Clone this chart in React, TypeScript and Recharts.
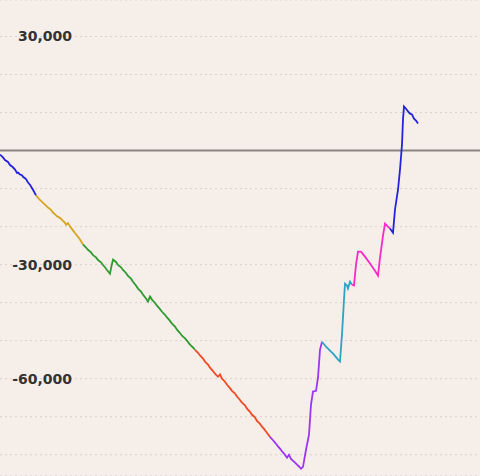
import { LineChart, Line, XAxis, YAxis, CartesianGrid, ReferenceLine } from 'recharts';

// trade number, cumulative P&L
const blue1 = [
  [0, -1050], [3, -1800], [5, -2500], [8, -3000], [10, -3800], [13, -4400], [15, -5000], [17, -5900],
  [18, -5800], [20, -6300], [22, -6500], [23, -6900], [25, -7300], [26, -7500], [28, -8400],
  [30, -9000], [33, -10300], [36, -11800],
];
const gold = [
  [36, -11800], [39, -12700], [42, -13500], [45, -14200], [48, -15000], [51, -15600], [53, -16300],
  [55, -16800], [57, -17300], [60, -17700], [63, -18500], [65, -19000], [66, -19500], [68, -19100],
  [70, -20000], [73, -21000], [75, -21700], [78, -22700], [80, -23400], [83, -24700],
];
const green = [
  [83, -24700], [86, -25500], [88, -26100], [91, -26800], [93, -27500], [96, -28100], [98, -28800],
  [101, -29400], [103, -30100], [105, -30700], [107, -31400], [110, -32400], [111, -31000],
  [113, -28700], [116, -29300], [118, -30100], [121, -30700], [123, -31400], [126, -32200],
  [128, -33000], [131, -33700], [133, -34500], [136, -35500], [138, -36300], [141, -37100],
  [143, -37900], [146, -38900], [148, -39700], [150, -38400], [152, -39200], [155, -40100],
  [157, -40800], [160, -41700], [162, -42400], [165, -43200], [167, -43900], [170, -44800],
  [172, -45500], [175, -46300], [177, -47100], [180, -48000], [182, -48700], [185, -49400],
  [187, -50000], [189, -50700], [191, -51300], [193, -51800], [195, -52400],
];
const orange = [
  [195, -52400], [198, -53200], [200, -53900], [203, -54700], [205, -55500], [208, -56300],
  [210, -57100], [213, -58000], [215, -58700], [218, -59500], [220, -58900], [222, -60000],
  [225, -60800], [227, -61600], [230, -62500], [232, -63200], [235, -63900], [237, -64700],
  [240, -65600], [242, -66300], [245, -67000], [247, -67900], [250, -68700], [252, -69500],
  [255, -70200], [257, -71100], [260, -71900], [262, -72600], [264, -73200], [266, -73900],
  [268, -74600], [270, -75300],
];
const purple = [
  [270, -75300], [273, -76200], [275, -76800], [278, -77800], [280, -78400], [282, -79100],
  [284, -79700], [287, -80800], [289, -80000], [291, -81100], [294, -81800], [297, -82600],
  [299, -83100], [301, -83700], [303, -83200], [306, -78700], [309, -74700], [311, -66800],
  [313, -63400], [316, -63200], [318, -59700], [320, -52400], [322, -50300],
];
const teal = [
  [322, -50300], [326, -51600], [330, -52600], [334, -53700], [338, -55000], [340, -55500],
  [342, -48400], [344, -39200], [345, -35000], [347, -35500], [348, -36300], [350, -34500],
  [352, -35300],
];
const magenta = [
  [352, -35300], [354, -35500], [356, -30000], [358, -26600], [361, -26600], [365, -27900],
  [370, -29700], [375, -31600], [378, -32900], [380, -28200], [383, -22400], [385, -19200],
  [388, -20000], [390, -20500],
];
const blue2 = [
  [390, -20500], [393, -21600], [395, -15500], [398, -10300], [400, -5000], [402, 1600],
  [403, 8200], [404, 11600], [406, 11000], [408, 10300], [410, 9700], [412, 9500],
  [414, 8400], [416, 7900], [418, 7100],
];

const GRID_TICKS = [30000, 20000, 10000, 0, -10000, -20000, -30000, -40000, -50000, -60000, -70000, -80000];
const LABEL_TICKS = [30000, -30000, -60000];

const SEGMENTS = [
  { name: 'blue1', points: blue1, color: '#2323dd' },
  { name: 'gold', points: gold, color: '#d6a322' },
  { name: 'green', points: green, color: '#2f9a2f' },
  { name: 'orange', points: orange, color: '#f04a24' },
  { name: 'purple', points: purple, color: '#9d35f5' },
  { name: 'teal', points: teal, color: '#2ea3c4' },
  { name: 'magenta', points: magenta, color: '#f729c8' },
  { name: 'blue2', points: blue2, color: '#2323dd' },
];

const toRows = (pts: number[][]) => pts.map(([trade, pnl]) => ({ trade, pnl }));

function ValueTick(props: any) {
  const { y, payload } = props;
  if (!LABEL_TICKS.includes(payload.value)) return <g />;
  return (
    <text
      x={72}
      y={y}
      dy={5}
      textAnchor="end"
      fill="#333"
      fontSize={14}
      fontWeight="bold"
      fontFamily="DejaVu Sans"
    >
      {payload.value.toLocaleString('en-US')}
    </text>
  );
}

export default function App() {
  return (
    <div style={{ position: 'fixed', left: 0, top: 0, width: 480, height: 476, background: '#f6eee9' }}>
      <LineChart width={480} height={476} margin={{ top: 0, right: 0, bottom: 0, left: 0 }}>
        <CartesianGrid vertical={false} stroke="#d9d1cc" strokeDasharray="2 3" />
        <XAxis type="number" dataKey="trade" domain={[0, 480]} hide allowDuplicatedCategory={false} />
        <YAxis
          type="number"
          domain={[-85600, 39600]}
          ticks={GRID_TICKS}
          interval={0}
          mirror
          axisLine={false}
          tickLine={false}
          tick={<ValueTick />}
        />
        <ReferenceLine y={0} stroke="#8a8580" strokeWidth={2} />
        {SEGMENTS.map((s) => (
          <Line
            key={s.name}
            data={toRows(s.points)}
            dataKey="pnl"
            stroke={s.color}
            strokeWidth={1.8}
            dot={false}
            activeDot={false}
            isAnimationActive={false}
          />
        ))}
      </LineChart>
    </div>
  );
}
